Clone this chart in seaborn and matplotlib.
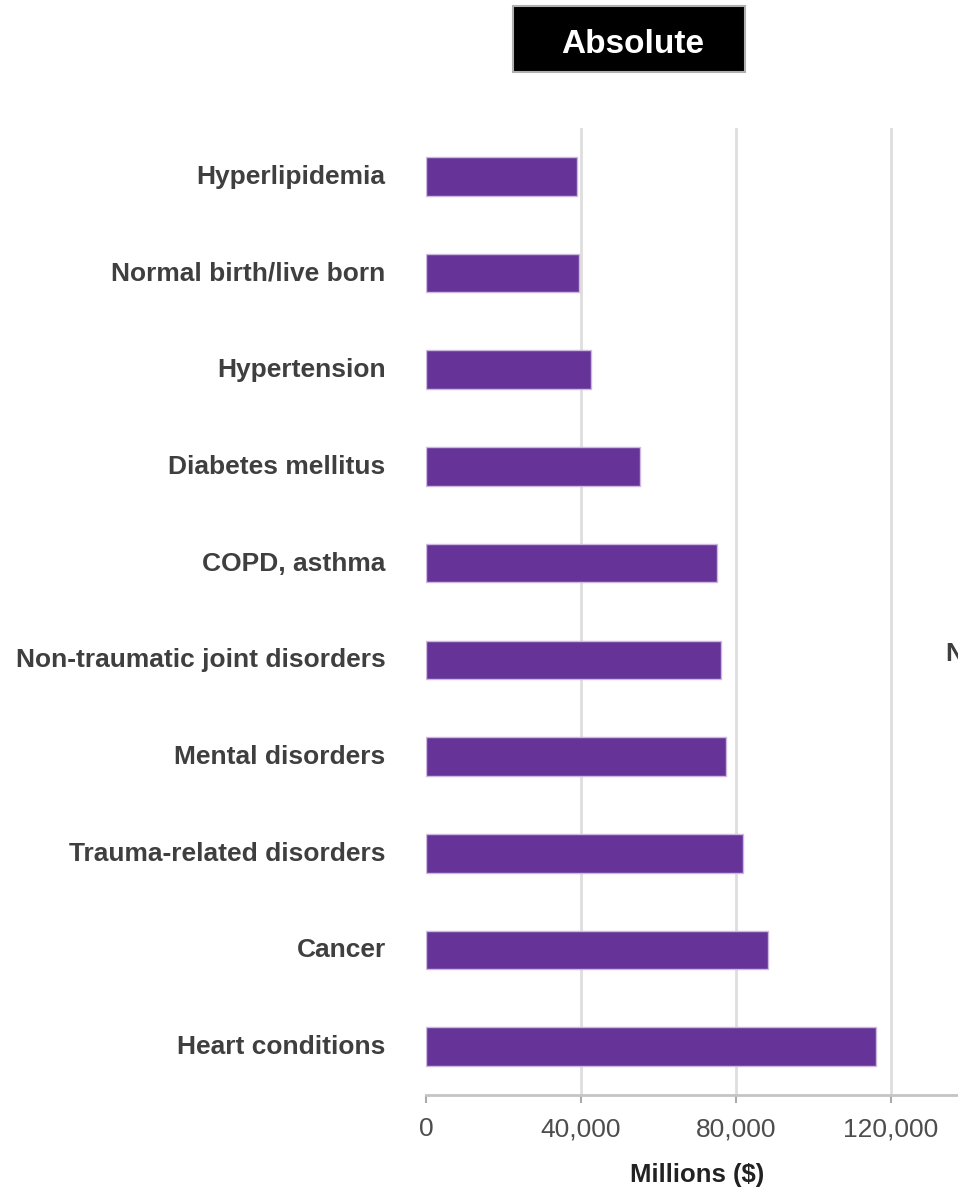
import matplotlib
matplotlib.use("Agg")
import matplotlib.pyplot as plt
import matplotlib.ticker as mticker
from matplotlib.patches import Rectangle
from matplotlib.transforms import ScaledTranslation
import seaborn as sns
import pandas as pd

conditions = [
    "Hyperlipidemia",
    "Normal birth/live born",
    "Hypertension",
    "Diabetes mellitus",
    "COPD, asthma",
    "Non-traumatic joint disorders",
    "Mental disorders",
    "Trauma-related disorders",
    "Cancer",
    "Heart conditions",
]
spending = [39000, 39500, 42600, 55300, 75200, 76200, 77500, 81900, 88400, 116300]
x_ticks = [0, 40000, 80000, 120000]

df = pd.DataFrame({"condition": conditions, "spending": spending})

sns.set_theme(style="white")
plt.rcParams["font.family"] = ["Liberation Sans", "DejaVu Sans"]

W, H = 958, 1188
fig = plt.figure(figsize=(W / 100, H / 100), dpi=100)
left, right, top, bottom = 426, 968, 128, 1095
ax = fig.add_axes([left / W, 1 - bottom / H, (right - left) / W, (bottom - top) / H])

sns.barplot(data=df, x="spending", y="condition", orient="h", ax=ax,
            color="#663399", saturation=1, width=0.40,
            edgecolor="#cdb8e0", linewidth=1.0)

ax.set_xlim(0, 140000)
ax.set_xticks(x_ticks)
ax.xaxis.set_major_formatter(mticker.FuncFormatter(lambda v, p: f"{int(v):,}"))
ax.grid(axis="x", color="#dedede", linewidth=2)
ax.get_xgridlines()[0].set_visible(False)
ax.set_axisbelow(True)
for s in ["top", "right", "left"]:
    ax.spines[s].set_visible(False)
ax.spines["bottom"].set_color("#c4c4c4")
ax.spines["bottom"].set_linewidth(2)
ax.tick_params(axis="x", bottom=True, length=6, width=1.5, color="#aaaaaa",
               labelsize=19, labelcolor="#4d4d4d", pad=10)
ax.tick_params(axis="y", left=False, labelsize=19, labelcolor="#3f3f3f", pad=23)
lift = ScaledTranslation(0, 2 / 100, fig.dpi_scale_trans)
for lab in ax.get_yticklabels():
    lab.set_fontweight("bold")
    lab.set_transform(lab.get_transform() + lift)
ax.set_ylabel("")
ax.set_xlabel("Millions ($)", fontsize=18.5, fontweight="bold", color="#222222", labelpad=16)

# Panel heading: white text on a black box
fig.add_artist(Rectangle((513 / W, 1 - 72 / H), (745 - 513) / W, (72 - 6) / H,
                         transform=fig.transFigure, facecolor="black",
                         edgecolor="#b0b0b0", linewidth=1.5))
fig.text(633 / W, 1 - 53 / H, "Absolute", ha="center", va="baseline",
         fontsize=24, fontweight="bold", color="white")
fig.text(946 / W, 1 - 654 / H, "Non-traumatic joint disorders", ha="left", va="center",
         fontsize=19, fontweight="bold", color="#3f3f3f")

fig.savefig("out.png", dpi=100)
